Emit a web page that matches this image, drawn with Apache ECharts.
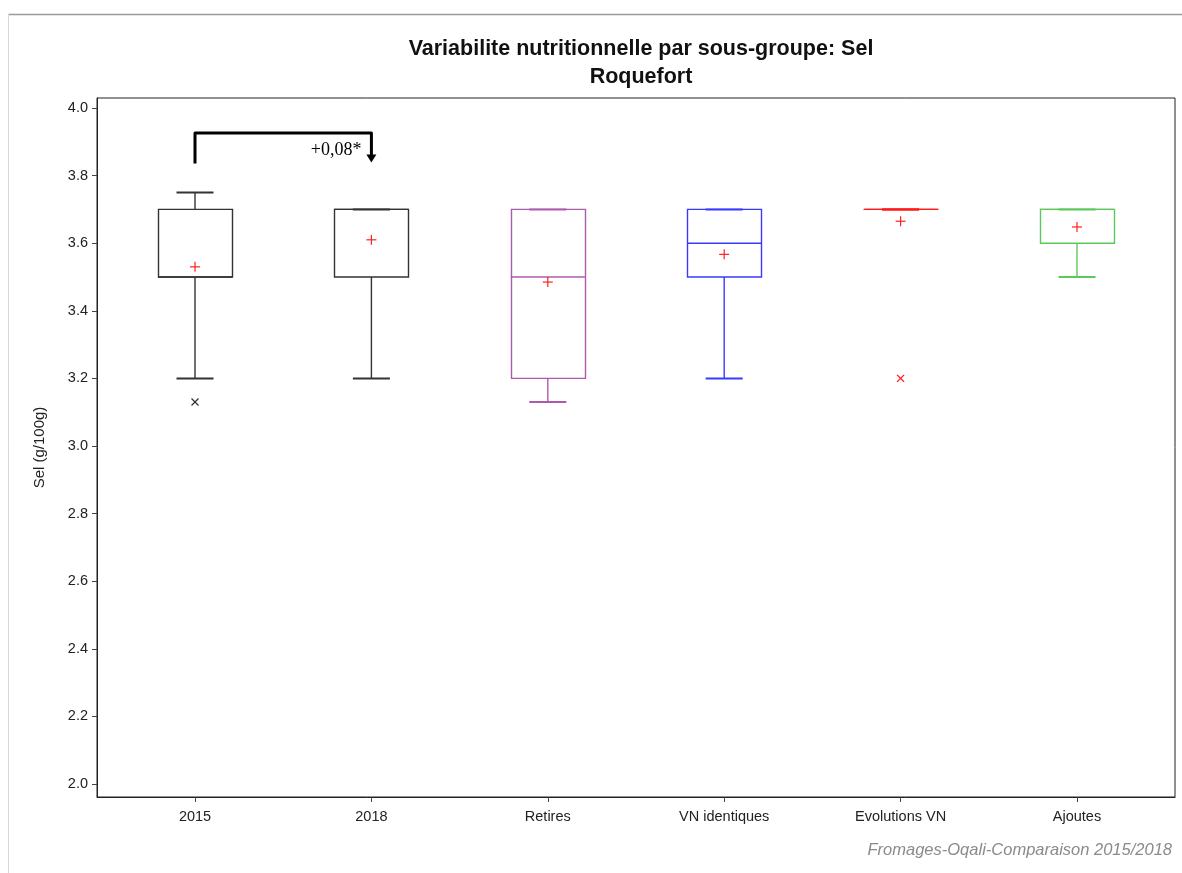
<!DOCTYPE html>
<html>
<head>
<meta charset="utf-8">
<script src="https://cdn.jsdelivr.net/npm/echarts@6/dist/echarts.min.js"></script>
<style>html,body{margin:0;padding:0;background:#fff}#c{width:1182px;height:873px}</style>
</head>
<body>
<div id="c"></div>
<script>
// ---- data ----
var categories = ['2015', '2018', 'Retires', 'VN identiques', 'Evolutions VN', 'Ajoutes'];
var lowWhisker  = [3.20, 3.20, 3.13, 3.20, 3.70, 3.50];
var q1          = [3.50, 3.50, 3.20, 3.50, 3.70, 3.60];
var median      = [3.50, 3.70, 3.50, 3.60, 3.70, 3.70];
var q3          = [3.70, 3.70, 3.70, 3.70, 3.70, 3.70];
var highWhisker = [3.75, 3.70, 3.70, 3.70, 3.70, 3.70];
var means       = [3.53, 3.61, 3.485, 3.567, 3.665, 3.648];
var outlierCat  = [0, 4];
var outlierVal  = [3.13, 3.20];
var yTicks = [2.0, 2.2, 2.4, 2.6, 2.8, 3.0, 3.2, 3.4, 3.6, 3.8, 4.0];
var bracketFrom = 0, bracketTo = 1;
var bracketStart = 3.836, bracketTop = 3.926, bracketTip = 3.839;
var bracketLabel = '+0,08*';

var boxColors = ['#333333', '#333333', '#ad5aad', '#3a3aff', '#ff1a1a', '#5cc85c'];
var outlierColors = ['#333333', '#ff1a1a'];

var boxData = categories.map(function (c, i) {
  return [i, lowWhisker[i], q1[i], median[i], q3[i], highWhisker[i]];
});
var meanData = categories.map(function (c, i) { return [i, means[i]]; });
var outData = outlierCat.map(function (c, i) { return [c, outlierVal[i]]; });

var chart = echarts.init(document.getElementById('c'), null, {renderer: 'canvas'});
var FONT = '"Liberation Sans", Arial, sans-serif';

function boxRender(params, api) {
  var i = api.value(0);
  var col = boxColors[i];
  var band = api.size([1, 0])[0];
  var bw = band * 0.42, cw = bw / 2;
  var x = api.coord([i, 0])[0];
  function Y(v) { return api.coord([i, v])[1]; }
  var lo = Y(api.value(1)), a = Y(api.value(2)), m = Y(api.value(3)), b = Y(api.value(4)), hi = Y(api.value(5));
  var st = {stroke: col, lineWidth: 1.4, fill: null};
  var ch = [
    {type: 'rect', shape: {x: Math.round(x - bw / 2) + 0.5, y: b, width: Math.round(bw), height: a - b}, style: {stroke: col, lineWidth: 1.4, fill: 'none'}},
    {type: 'line', shape: {x1: x - bw / 2, y1: m, x2: x + bw / 2, y2: m}, style: st},
    {type: 'line', shape: {x1: x, y1: a, x2: x, y2: lo}, style: st},
    {type: 'line', shape: {x1: x, y1: b, x2: x, y2: hi}, style: st},
    {type: 'line', shape: {x1: x - cw / 2, y1: lo, x2: x + cw / 2, y2: lo}, style: {stroke: col, lineWidth: 2}},
    {type: 'line', shape: {x1: x - cw / 2, y1: hi, x2: x + cw / 2, y2: hi}, style: {stroke: col, lineWidth: 2}}
  ];
  return {type: 'group', children: ch};
}

function meanRender(params, api) {
  var p = api.coord([api.value(0), api.value(1)]);
  var s = 5;
  return {type: 'group', children: [
    {type: 'line', shape: {x1: p[0] - s, y1: p[1], x2: p[0] + s, y2: p[1]}, style: {stroke: '#ff2020', lineWidth: 1.2}},
    {type: 'line', shape: {x1: p[0], y1: p[1] - s, x2: p[0], y2: p[1] + s}, style: {stroke: '#ff2020', lineWidth: 1.2}}
  ]};
}

function outRender(params, api) {
  var p = api.coord([api.value(0), api.value(1)]);
  var s = 3.5;
  var col = outlierColors[params.dataIndex];
  return {type: 'group', children: [
    {type: 'line', shape: {x1: p[0] - s, y1: p[1] - s, x2: p[0] + s, y2: p[1] + s}, style: {stroke: col, lineWidth: 1.3}},
    {type: 'line', shape: {x1: p[0] - s, y1: p[1] + s, x2: p[0] + s, y2: p[1] - s}, style: {stroke: col, lineWidth: 1.3}}
  ]};
}

function bracketRender(params, api) {
  var p0 = api.coord([api.value(0), api.value(2)]);
  var pt = api.coord([api.value(0), api.value(3)]);
  var p1 = api.coord([api.value(1), api.value(3)]);
  var tip = api.coord([api.value(1), api.value(4)]);
  var ah = 8, aw = 5;
  return {type: 'group', children: [
    {type: 'polyline', shape: {points: [[p0[0], p0[1]], [pt[0], pt[1]], [p1[0], p1[1]], [tip[0], tip[1] - ah + 1]]},
      style: {stroke: '#000', lineWidth: 3, fill: null, lineJoin: 'round'}},
    {type: 'polygon', shape: {points: [[tip[0] - aw, tip[1] - ah], [tip[0] + aw, tip[1] - ah], [tip[0], tip[1]]]},
      style: {fill: '#000'}},
    {type: 'text', x: tip[0] - 10, y: tip[1] - 12,
      style: {text: bracketLabel, fill: '#000', font: '18px "Liberation Serif", "Times New Roman", serif', align: 'right', verticalAlign: 'middle'}}
  ]};
}

var option = {
  backgroundColor: '#fff',
  animation: false,
  title: [
    {text: 'Variabilite nutritionnelle par sous-groupe: Sel\nRoquefort', left: 636, top: 30, textAlign: 'center',
      textStyle: {fontFamily: FONT, fontSize: 21.5, fontWeight: 'bold', color: '#111', lineHeight: 28}},
    {text: 'Fromages-Oqali-Comparaison 2015/2018', right: 5, top: 837,
      textStyle: {fontFamily: FONT, fontSize: 16.5, fontStyle: 'italic', fontWeight: 'normal', color: '#8a8a8a'}}
  ],
  graphic: [
    {type: 'line', shape: {x1: 8, y1: 14.5, x2: 1182, y2: 14.5}, style: {stroke: '#9a9a9a', lineWidth: 1.5}, silent: true},
    {type: 'line', shape: {x1: 8.5, y1: 14, x2: 8.5, y2: 873}, style: {stroke: '#d8d8d8', lineWidth: 1}, silent: true}
  ],
  grid: {left: 97, right: 7, top: 98, bottom: 76, show: true, borderColor: '#222', borderWidth: 1, backgroundColor: 'transparent'},
  xAxis: {
    type: 'value', min: -0.5556, max: 5.5556,
    splitLine: {show: false},
    axisLine: {show: true, onZero: false, lineStyle: {color: '#222'}},
    axisTick: {show: true, customValues: [0, 1, 2, 3, 4, 5], length: 5, lineStyle: {color: '#444'}},
    axisLabel: {customValues: [0, 1, 2, 3, 4, 5], formatter: function (v) { return categories[Math.round(v)]; },
      fontFamily: FONT, fontSize: 14.5, color: '#222', margin: 12}
  },
  yAxis: {
    type: 'value', min: 1.9615, max: 4.0296,
    name: 'Sel (g/100g)', nameLocation: 'middle', nameGap: 50, nameRotate: 90,
    nameTextStyle: {fontFamily: FONT, fontSize: 15, color: '#222'},
    splitLine: {show: false},
    axisLine: {show: true, onZero: false, lineStyle: {color: '#222'}},
    axisTick: {show: true, customValues: yTicks, length: 5, lineStyle: {color: '#444'}},
    axisLabel: {customValues: yTicks, formatter: function (v) { return v.toFixed(1); },
      fontFamily: FONT, fontSize: 14.5, color: '#222', margin: 9}
  },
  series: [
    {type: 'custom', renderItem: boxRender, data: boxData, encode: {x: 0, y: [1, 2, 3, 4, 5]}, clip: false},
    {type: 'custom', renderItem: meanRender, data: meanData, encode: {x: 0, y: 1}},
    {type: 'custom', renderItem: outRender, data: outData, encode: {x: 0, y: 1}},
    {type: 'custom', renderItem: bracketRender, data: [[bracketFrom, bracketTo, bracketStart, bracketTop, bracketTip]], encode: {x: [0, 1], y: [2, 3, 4]}}
  ]
};
chart.setOption(option);
</script>
</body>
</html>
